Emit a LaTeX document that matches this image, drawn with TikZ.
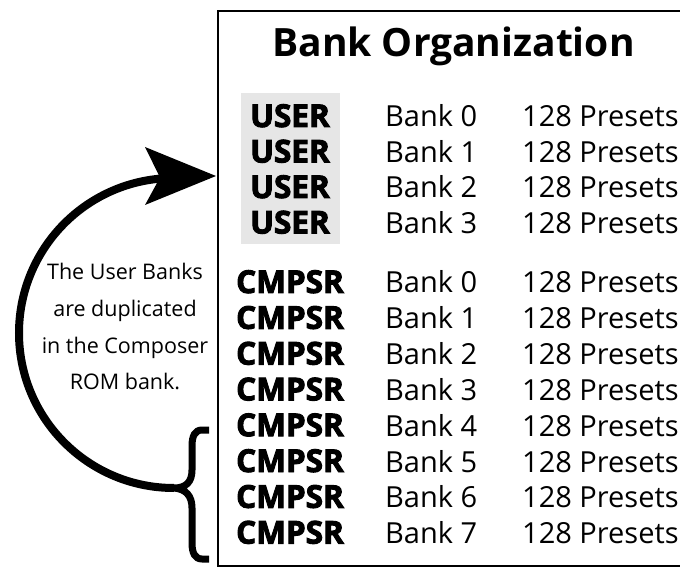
\documentclass[tikz,border=0pt]{standalone}
\usepackage{fontspec}
\setmainfont{Open Sans}
\newfontfamily\heavyfont{Open Sans}[BoldFeatures={FakeBold=3}]
\definecolor{usergray}{RGB}{230,230,230}
\begin{document}
\begin{tikzpicture}[x=1pt,y=-1pt,
  rowtxt/.style={font=\fontsize{29}{36}\selectfont, inner sep=0pt, anchor=base west},
  heavytxt/.style={font=\heavyfont\bfseries\fontsize{31.5}{36}\selectfont, inner sep=0pt, anchor=base},
  titletxt/.style={font=\bfseries\fontsize{39}{46}\selectfont, inner sep=0pt, anchor=base},
  notetxt/.style={font=\fontsize{21.5}{30}\selectfont, inner sep=0pt, anchor=base},
  thickline/.style={line width=8pt},
  bracestyle/.style={line width=7pt}]
\useasboundingbox (0,0) rectangle (680,569);
\fill[white] (0,0) rectangle (680,569);
% frame (open on the right)
\draw[line width=1.5pt] (680,11) -- (218,11) -- (218,566) -- (680,566);
% gray background of user banks
\fill[usergray] (241,93) rectangle (340,244);
% title
\node[titletxt] (title) at (453.5,57) {Bank Organization};
% user banks
\foreach \i/\y in {0/127,1/162.5,2/198,3/233.5} {
  \node[heavytxt] (u\i) at (290,\y) {USER};
  \node[rowtxt] (ub\i) at (385,\y) {Bank \i};
  \node[rowtxt] (up\i) at (522,\y) {128 Presets};
}
% composer banks
\foreach \i in {0,...,7} {
  \pgfmathsetmacro\yy{293+35.8*\i}
  \node[heavytxt] (c\i) at (290,\yy) {CMPSR};
  \node[rowtxt] (cb\i) at (385,\yy) {Bank \i};
  \node[rowtxt] (cp\i) at (522,\yy) {128 Presets};
}
% note
\node[notetxt] (n1) at (125,280) {The User Banks};
\node[notetxt] (n2) at (125,316.5) {are duplicated};
\node[notetxt] (n3) at (125,353) {in the Composer};
\node[notetxt] (n4) at (125,389.5) {ROM bank.};
% brace
\coordinate (bracetip) at (174,488);
\coordinate (arrowtip) at (216,176);
\draw[bracestyle] (209,430) -- (202,430) .. controls (195,430) and (192,436) .. (192,446) -- (192,470)
  .. controls (192,482) and (186,488) .. (bracetip)
  .. controls (186,489) and (192,496) .. (192,508) -- (192,543)
  .. controls (192,553) and (195,559) .. (202,559) -- (209,559);
% curved arrow
\draw[thickline] (bracetip) arc[start angle=90, end angle=264, radius=155] -- (162,178);
\fill (arrowtip) -- (145,147) -- (160,177.5) -- (145,205) -- cycle;
\end{tikzpicture}
\end{document}
